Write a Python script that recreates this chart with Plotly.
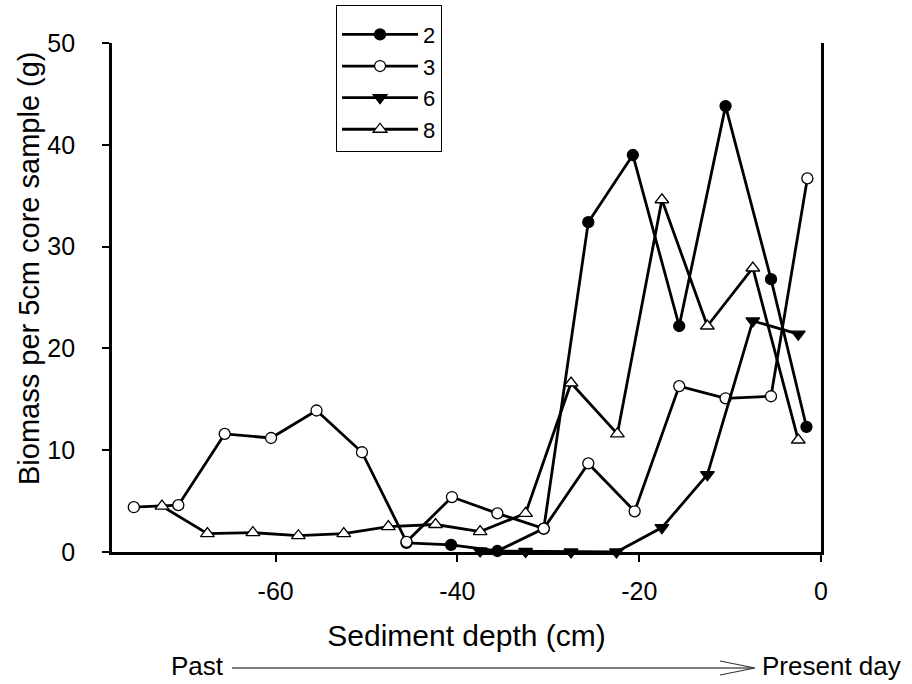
import plotly.graph_objects as go

FONT = "Liberation Sans, Arial, sans-serif"

# series "2" (filled circles)
x2 = [-45.6, -40.7, -35.6, -30.5, -25.6, -20.7, -15.6, -10.5, -5.5, -1.6]
y2 = [0.9, 0.7, 0.1, 2.3, 32.4, 39.0, 22.2, 43.8, 26.8, 12.3]

# series "3" (open circles)
x3 = [-75.6, -70.7, -65.6, -60.5, -55.5, -50.5, -45.6, -40.6, -35.6, -30.5,
      -25.6, -20.5, -15.6, -10.5, -5.5, -1.5]
y3 = [4.4, 4.6, 11.6, 11.2, 13.9, 9.8, 1.0, 5.4, 3.8, 2.3,
      8.7, 4.0, 16.3, 15.1, 15.3, 36.7]

# series "6" (filled down triangles)
x6 = [-37.5, -32.5, -27.5, -22.5, -17.5, -12.5, -7.5, -2.5]
y6 = [0.1, 0.05, 0.0, 0.0, 2.4, 7.6, 22.7, 21.4]

# series "8" (open up triangles)
x8 = [-72.5, -67.5, -62.5, -57.5, -52.5, -47.6, -42.4, -37.5, -32.5, -27.5,
      -22.4, -17.5, -12.5, -7.5, -2.5]
y8 = [4.5, 1.8, 1.9, 1.6, 1.8, 2.5, 2.7, 2.0, 3.8, 16.6,
      11.6, 34.6, 22.2, 27.9, 11.0]

x_ticks = [-60, -40, -20, 0]
x_ticktext = ["-60", "-40", "-20", "0"]
y_ticks = [0, 10, 20, 30, 40, 50]

series = [
    ("2", x2, y2, "circle", "black", 11),
    ("3", x3, y3, "circle", "white", 11),
    ("6", x6, y6, "triangle-down", "black", 12),
    ("8", x8, y8, "triangle-up", "white", 12),
]

fig = go.Figure()
for name, xs, ys, sym, fill, size in series:
    fig.add_trace(go.Scatter(
        x=xs, y=ys, name=name, mode="lines+markers",
        line=dict(color="black", width=2.8),
        marker=dict(symbol=sym, size=size, color=fill,
                    line=dict(color="black", width=1.3)),
        cliponaxis=False,
    ))

# invisible trace to draw the right-hand frame line
fig.add_trace(go.Scatter(x=[0], y=[0], yaxis="y2", showlegend=False,
                         mode="markers", marker=dict(opacity=0),
                         hoverinfo="skip"))

axis_common = dict(
    showline=True, linecolor="black", linewidth=2.8,
    ticks="outside", ticklen=7, tickwidth=2.4, tickcolor="black",
    showgrid=False, zeroline=False,
    tickfont=dict(family=FONT, size=25, color="black"),
)

fig.update_layout(
    width=912, height=684,
    paper_bgcolor="white", plot_bgcolor="white",
    margin=dict(l=112, r=91, t=43, b=132, autoexpand=False),
    font=dict(family=FONT, color="black"),
    xaxis=dict(
        range=[-78, 0], tickvals=x_ticks, ticktext=x_ticktext,
        ticklabelstandoff=8,
        title=dict(text="Sediment depth (cm)", font=dict(size=30), standoff=22),
        **axis_common,
    ),
    yaxis=dict(
        range=[0, 50], tickvals=y_ticks, ticklabelstandoff=22,
        **axis_common,
    ),
    yaxis2=dict(
        overlaying="y", side="right", anchor="x", range=[0, 50],
        showline=True, linecolor="black", linewidth=2.8,
        showticklabels=False, ticks="", showgrid=False, zeroline=False,
    ),
    legend=dict(
        x=0.316, y=1.075, xanchor="left", yanchor="top",
        bordercolor="black", borderwidth=1, bgcolor="white",
        font=dict(family=FONT, size=22),
        title=dict(text=" ", font=dict(size=6)),
        itemwidth=76, tracegroupgap=0,
    ),
    showlegend=True,
)

# y axis title placed as a rotated annotation (sits a little above centre)
fig.add_annotation(text="Biomass per 5cm core sample (g)", textangle=-90,
                   xref="paper", yref="paper",
                   x=(29 - 112) / 709, y=(552 - 268) / 509,
                   xanchor="center", yanchor="middle", showarrow=False,
                   font=dict(family=FONT, size=29))

# "Past -> Present day" arrow under the axis title
fig.add_shape(type="line", xref="paper", yref="paper",
              x0=(232 - 112) / 709, x1=(754 - 112) / 709,
              y0=(552 - 668) / 509, y1=(552 - 668) / 509,
              line=dict(color="#555555", width=1.5))
fig.add_shape(type="path", xref="paper", yref="paper",
              path="M {a},{b} L {c},{d} L {a},{e}".format(
                  a=(720 - 112) / 709, c=(755 - 112) / 709,
                  b=(552 - 661) / 509, d=(552 - 668) / 509, e=(552 - 675) / 509),
              line=dict(color="#333333", width=1.2))
fig.add_annotation(text="Past", xref="paper", yref="paper",
                   x=(226 - 112) / 709, y=(552 - 666) / 509,
                   xanchor="right", yanchor="middle", showarrow=False,
                   font=dict(family=FONT, size=26))
fig.add_annotation(text="Present day", xref="paper", yref="paper",
                   x=(760 - 112) / 709, y=(552 - 666) / 509,
                   xanchor="left", yanchor="middle", showarrow=False,
                   font=dict(family=FONT, size=26))

fig.write_html("out.html", config={"displayModeBar": False},
               post_script="document.body.style.margin='0';")
